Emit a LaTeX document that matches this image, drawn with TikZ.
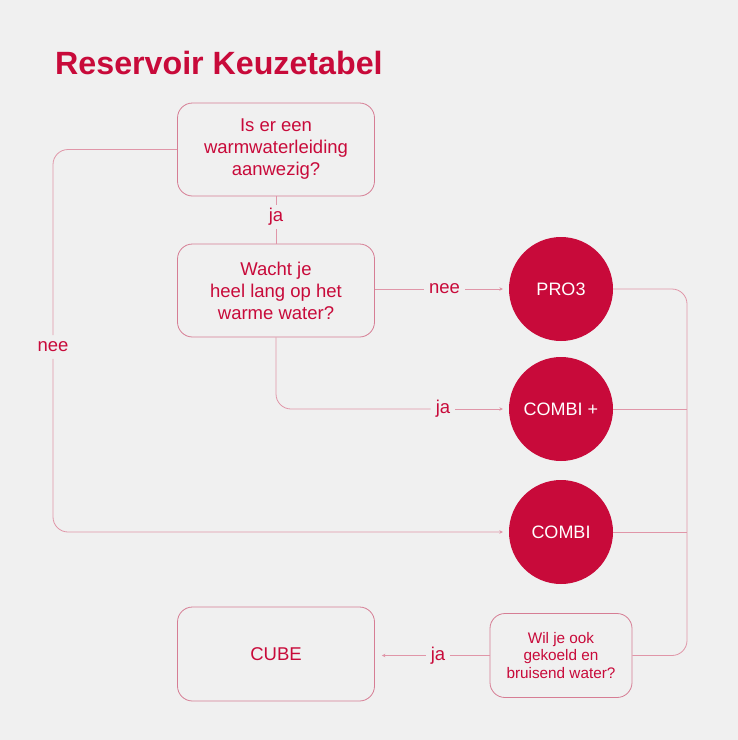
\documentclass[tikz,border=0pt]{standalone}
\usepackage{fontspec}
\setmainfont{Liberation Sans}
\usetikzlibrary{arrows.meta}
\definecolor{bg}{RGB}{240,240,240}
\definecolor{brand}{RGB}{200,10,58}
\definecolor{linecol}{RGB}{224,150,168}
\definecolor{boxcol}{RGB}{214,125,148}
\tikzset{
  qbox/.style={draw=boxcol, line width=0.8pt, rounded corners=15pt, text=brand, align=center,
    font=\fontsize{18.5}{22}\selectfont, inner sep=0pt},
  endcirc/.style={circle, fill=brand, text=white, minimum size=104pt, inner sep=0pt,
    font=\fontsize{18}{22}\selectfont},
  conn/.style={draw=linecol, line width=0.8pt},
  arr/.style={-{Stealth[length=3.5pt,width=3.5pt]}, shorten >=6pt},
  lbl/.style={fill=bg, text=brand, font=\fontsize{18.5}{22}\selectfont, inner xsep=5pt, inner ysep=1pt,
    text height=15.5pt, text depth=6pt}
}
\begin{document}
\begin{tikzpicture}[x=1pt,y=-1pt]
\fill[bg] (0,0) rectangle (738,740);
\useasboundingbox (0,0) rectangle (738,740);

\node[anchor=base west, text=brand, font=\fontsize{32.2}{36}\selectfont\bfseries, inner sep=0pt] (title) at (55,74) {Reservoir Keuzetabel};

\node[qbox, minimum width=197pt, minimum height=93pt] (b1) at (276,149.5) {Is er een\\warmwaterleiding\\aanwezig?};
\node[qbox, minimum width=197pt, minimum height=93pt] (b2) at (276,290.5) {Wacht je\\heel lang op het\\warme water?};
\node[qbox, minimum width=142pt, minimum height=84pt, font=\fontsize{15.3}{17.5}\selectfont] (b3) at (561,655.5) {Wil je ook\\gekoeld en\\bruisend water?};
\node[qbox, minimum width=197pt, minimum height=94pt] (cube) at (276,654) {CUBE};

\node[endcirc] (pro3) at (561,289) {PRO3};
\node[endcirc] (c2) at (561,409) {COMBI +};
\node[endcirc] (c3) at (561,532) {COMBI};

\coordinate (rbot) at (687,655.5);

% right collector
\draw[conn, rounded corners=15pt] (pro3.east) -| (rbot) -- (b3.east);
\draw[conn] (c2.east) -- (c2.east -| rbot);
\draw[conn] (c3.east) -- (c3.east -| rbot);

% b1 -> b2 (ja)
\node[lbl] (lja1) at (276,217) {ja};
\draw[conn] (b1.south) -- (lja1);
\draw[conn] (lja1) -- (b2.north);

% b2 -> pro3 (nee)
\draw[conn, arr] (b2.east |- pro3.west) -- node[lbl, pos=0.52] {nee} (pro3.west);

% b2 -> combi+ (ja)
\node[lbl] (lja2) at (443,409) {ja};
\draw[conn, rounded corners=15pt] (b2.south) |- (lja2.west);
\draw[conn, arr] (lja2.east) -- (c2.west);

% b1 -> combi (nee)
\node[lbl] (lnee2) at (53,347) {nee};
\draw[conn, rounded corners=15pt] (b1.west) -| (lnee2.north);
\draw[conn, arr, rounded corners=15pt] (lnee2.south) |- (c3.west);

% b3 -> cube (ja)
\draw[conn, arr, shorten >=7pt] (b3.west) -- node[lbl, pos=0.45] {ja} (b3.west -| cube.east);
\end{tikzpicture}
\end{document}
